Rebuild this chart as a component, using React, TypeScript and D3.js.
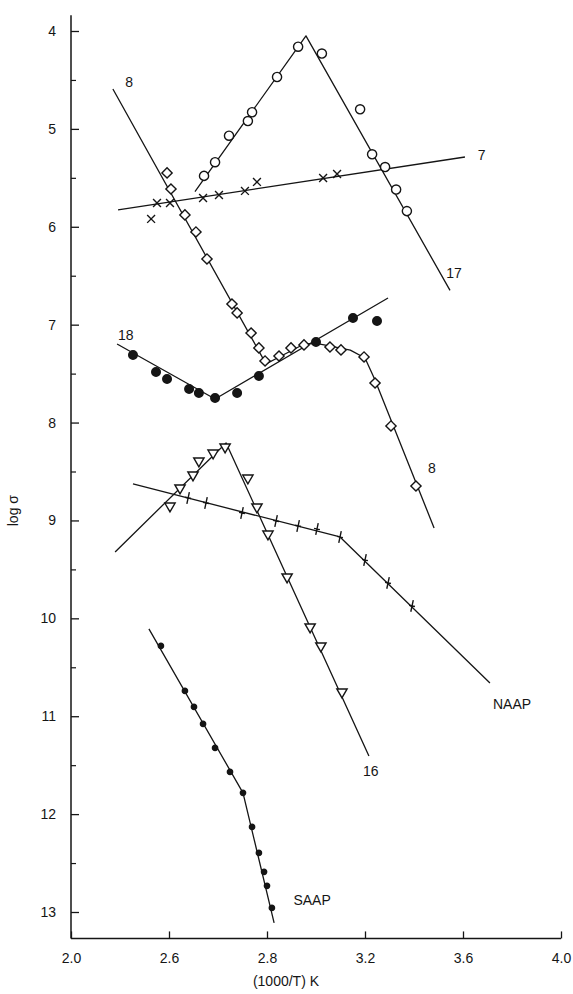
import { useEffect, useRef } from "react";
import * as d3 from "d3";

type Pt = [number, number];

// axis ticks
const X_TICKS = [2.0, 2.4, 2.8, 3.2, 3.6, 4.0];
const X_TICK_LABELS = ["2.0", "2.6", "2.8", "3.2", "3.6", "4.0"];
const Y_TICKS = [4, 5, 6, 7, 8, 9, 10, 11, 12, 13];
const Y_MINOR = [4.5, 5.5, 6.5, 7.5, 8.5, 9.5, 10.5, 11.5, 12.5];

// sample 17 (open circles)
const s17: Pt[] = [
  [2.543, 5.48], [2.588, 5.34], [2.645, 5.07], [2.722, 4.92], [2.739, 4.83],
  [2.841, 4.47], [2.927, 4.16], [3.024, 4.23], [3.18, 4.8], [3.229, 5.26],
  [3.282, 5.39], [3.327, 5.62], [3.371, 5.84],
];
const fit17: Pt[] = [[2.506, 5.64], [2.959, 4.05], [3.547, 6.65]];

// sample 7 (crosses)
const s7: Pt[] = [
  [2.351, 5.757], [2.404, 5.757], [2.539, 5.706], [2.604, 5.675], [2.71, 5.634],
  [2.759, 5.542], [3.029, 5.502], [3.086, 5.461], [2.327, 5.92],
];
const fit7: Pt[] = [[2.192, 5.828], [3.608, 5.287]];

// sample 8 (open diamonds)
const s8: Pt[] = [
  [2.392, 5.45], [2.408, 5.614], [2.465, 5.879], [2.51, 6.053], [2.555, 6.329],
  [2.657, 6.789], [2.678, 6.88], [2.735, 7.085], [2.767, 7.238], [2.792, 7.371],
  [2.849, 7.32], [2.898, 7.238], [2.951, 7.207], [3.057, 7.228], [3.102, 7.258],
  [3.196, 7.33], [3.241, 7.596], [3.306, 8.035], [3.408, 8.648],
];
const fit8: Pt[] = [
  [2.171, 4.592], [2.796, 7.401], [2.85, 7.33], [2.95, 7.2], [3.0, 7.19],
  [3.06, 7.22], [3.14, 7.26], [3.2, 7.34], [3.24, 7.56], [3.482, 9.077],
];

// sample 18 (filled circles)
const s18: Pt[] = [
  [2.253, 7.31], [2.347, 7.483], [2.392, 7.555], [2.482, 7.657], [2.522, 7.698],
  [2.588, 7.749], [2.678, 7.698], [2.767, 7.524], [3.0, 7.177], [3.151, 6.932],
  [3.249, 6.962],
];
const fit18: Pt[] = [[2.188, 7.197], [2.588, 7.759], [3.294, 6.727]];

// sample 16 (open triangles)
const s16: Pt[] = [
  [2.404, 8.852], [2.445, 8.668], [2.498, 8.535], [2.522, 8.392], [2.58, 8.311],
  [2.629, 8.249], [2.722, 8.566], [2.759, 8.862], [2.804, 9.138], [2.882, 9.577],
  [2.976, 10.088], [3.02, 10.282], [3.106, 10.752],
];
const fit16: Pt[] = [[2.18, 9.322], [2.633, 8.208], [3.216, 11.406]];

// NAAP (ticks)
const sNAAP: Pt[] = [
  [2.478, 8.77], [2.551, 8.821], [2.698, 8.923], [2.837, 9.005], [2.927, 9.056],
  [3.004, 9.087], [3.098, 9.169], [3.2, 9.404], [3.294, 9.638], [3.392, 9.873],
];
const fitNAAP: Pt[] = [[2.253, 8.627], [3.098, 9.169], [3.71, 10.66]];

// SAAP (small dots)
const sSAAP: Pt[] = [
  [2.367, 10.282], [2.465, 10.742], [2.502, 10.905], [2.539, 11.079], [2.588, 11.324],
  [2.649, 11.569], [2.702, 11.783], [2.739, 12.131], [2.767, 12.396], [2.788, 12.59],
  [2.8, 12.733], [2.82, 12.958],
];
const fitSAAP: Pt[] = [[2.318, 10.108], [2.702, 11.783], [2.829, 13.111]];

// curve labels
const curveLabels: { text: string; at: Pt; anchor: string }[] = [
  { text: "8", at: [2.237, 4.52], anchor: "middle" },
  { text: "7", at: [3.66, 5.27], anchor: "start" },
  { text: "17", at: [3.563, 6.47], anchor: "middle" },
  { text: "18", at: [2.224, 7.11], anchor: "middle" },
  { text: "8", at: [3.473, 8.46], anchor: "middle" },
  { text: "NAAP", at: [3.8, 10.88], anchor: "middle" },
  { text: "16", at: [3.224, 11.56], anchor: "middle" },
  { text: "SAAP", at: [2.984, 12.88], anchor: "middle" },
];

const INK = "#151515";
const FONT = "'Liberation Sans', Arial, sans-serif";

export default function App() {
  const ref = useRef<SVGSVGElement>(null);

  useEffect(() => {
    if (!ref.current) return;
    const svg = d3.select(ref.current);
    svg.selectAll("*").remove();

    const x = d3.scaleLinear().domain([2, 4]).range([71, 561]);
    const y = d3.scaleLinear().domain([4, 13]).range([31, 912]);
    const yBottom = 13.27;
    const yTop = 3.84;

    svg.append("rect").attr("width", 573).attr("height", 994).attr("fill", "#fff");

    // axis frame
    svg.append("line")
      .attr("x1", x(2)).attr("x2", x(2))
      .attr("y1", y(yTop)).attr("y2", y(yBottom))
      .attr("stroke", INK).attr("stroke-width", 1.5);
    svg.append("line")
      .attr("x1", x(2)).attr("x2", x(4))
      .attr("y1", y(yBottom)).attr("y2", y(yBottom))
      .attr("stroke", INK).attr("stroke-width", 1.5);

    // y axis, ticks pointing inward
    const yAx = svg.append("g").attr("transform", `translate(${x(2)},0)`)
      .call(d3.axisLeft(y).tickValues(Y_TICKS).tickSize(-8).tickSizeOuter(0).tickPadding(15)
        .tickFormat((d) => String(d)));
    yAx.select(".domain").remove();
    yAx.selectAll("text").attr("font-size", "14px").attr("font-family", FONT).attr("fill", INK);
    yAx.selectAll("line").attr("stroke", INK).attr("stroke-width", 1.3);

    const yMin = svg.append("g").attr("transform", `translate(${x(2)},0)`)
      .call(d3.axisLeft(y).tickValues(Y_MINOR).tickSize(-5).tickSizeOuter(0).tickFormat(() => ""));
    yMin.select(".domain").remove();
    yMin.selectAll("line").attr("stroke", INK).attr("stroke-width", 1.2);

    // x axis
    const xAx = svg.append("g").attr("transform", `translate(0,${y(yBottom)})`)
      .call(d3.axisBottom(x).tickValues(X_TICKS).tickSize(-7).tickSizeOuter(0).tickPadding(15)
        .tickFormat((_, i) => X_TICK_LABELS[i]));
    xAx.select(".domain").remove();
    xAx.selectAll("text").attr("font-size", "14px").attr("font-family", FONT).attr("fill", INK);
    xAx.selectAll("line").attr("stroke", INK).attr("stroke-width", 1.3);

    // axis titles
    svg.append("text")
      .attr("x", 286).attr("y", 986)
      .attr("text-anchor", "middle").attr("font-size", "14px").attr("font-family", FONT)
      .attr("fill", INK).text("(1000/T) K");
    svg.append("text")
      .attr("transform", `translate(18,${y(8.9)}) rotate(-90)`)
      .attr("text-anchor", "middle").attr("font-size", "14px").attr("font-family", FONT)
      .attr("fill", INK).text("log σ");

    // fitted lines
    const line = d3.line<Pt>().x((d) => x(d[0])).y((d) => y(d[1]));
    [fit17, fit7, fit8, fit18, fit16, fitNAAP, fitSAAP].forEach((f) => {
      svg.append("path").datum(f).attr("d", line)
        .attr("fill", "none").attr("stroke", INK).attr("stroke-width", 1.3)
        .attr("stroke-linejoin", "round");
    });

    const marks = (
      data: Pt[],
      type: d3.SymbolType | null,
      size: number,
      rot: number,
      filled: boolean,
      custom?: string,
    ) => {
      const sym = type ? d3.symbol().type(type).size(size)() : custom;
      svg.append("g").selectAll("path").data(data).join("path")
        .attr("transform", (d) => `translate(${x(d[0])},${y(d[1])}) rotate(${rot})`)
        .attr("d", sym as string)
        .attr("fill", filled ? INK : "#fff")
        .attr("stroke", INK)
        .attr("stroke-width", 1.4);
    };

    marks(s17, d3.symbolCircle, 66, 0, false);
    marks(s7, d3.symbolTimes, 42, 0, false);
    marks(s8, d3.symbolSquare, 52, 45, false);
    marks(s18, d3.symbolCircle, 58, 0, true);
    marks(s16, d3.symbolTriangle, 46, 180, false);
    marks(sNAAP, null, 0, 12, false, "M0,-6L0,6M-3,0L3,0");
    marks(sSAAP, d3.symbolCircle, 22, 0, true);

    svg.append("g").selectAll("text").data(curveLabels).join("text")
      .attr("x", (d) => x(d.at[0]))
      .attr("y", (d) => y(d.at[1]) + 5)
      .attr("text-anchor", (d) => d.anchor)
      .attr("font-size", "14px")
      .attr("font-family", FONT)
      .attr("fill", INK)
      .text((d) => d.text);
  }, []);

  return (
    <svg
      ref={ref}
      width={573}
      height={994}
      style={{ position: "absolute", left: 0, top: 0, display: "block" }}
    />
  );
}
